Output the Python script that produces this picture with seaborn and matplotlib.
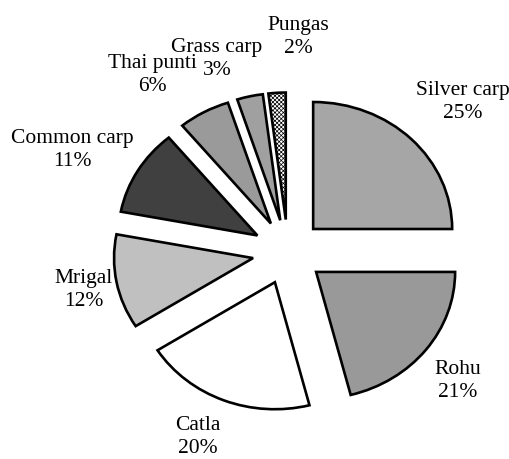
import matplotlib
matplotlib.use("Agg")
import matplotlib.pyplot as plt
import seaborn as sns

# ---- data ----
species = ["Silver carp", "Rohu", "Catla", "Mrigal", "Common carp",
           "Thai punti", "Grass carp", "Pungas"]
shares = [25, 21, 20, 12, 11, 6, 3, 2]
colors = ["#a6a6a6", "#999999", "#ffffff", "#c0c0c0", "#404040",
          "#9a9a9a", "#a0a0a0", "#ffffff"]
hatches = [None, None, None, None, None, None, None, "xxxxxxxx"]
# label block centres in figure pixels (x, y from top)
label_pos = [(463, 102), (458, 381), (198, 437), (84, 290), (72, 150),
             (152, 75), (217, 59), (298, 37)]

sns.set_theme(style="white")
plt.rcParams["font.family"] = ["Liberation Serif", "DejaVu Serif"]
plt.rcParams["hatch.linewidth"] = 0.5

W, H = 510, 459
fig = plt.figure(figsize=(W / 100, H / 100), dpi=100)
ax = fig.add_axes([0, 0, 1, 1])

wedges, _ = ax.pie(shares, colors=colors, startangle=90, counterclock=False,
                   explode=[0.256] * len(shares),
                   wedgeprops=dict(edgecolor="black", linewidth=1.9))
for w, h in zip(wedges, hatches):
    if h:
        w.set_hatch(h)

# elliptical pie: x radius 139 px, y radius 127 px, centre at (288, 252)
cx, cy, rx, ry = 288, 252, 139, 127
ax.set_aspect("auto")
ax.set_xlim(-cx / rx, (W - cx) / rx)
ax.set_ylim(-(H - cy) / ry, cy / ry)
ax.axis("off")

for name, val, (px, py) in zip(species, shares, label_pos):
    fig.text(px / W, 1 - py / H, f"{name}\n{val}%", ha="center", va="center",
             fontsize=15.5, color="black", linespacing=1.25)

fig.savefig("out.png", dpi=100, facecolor="white")
